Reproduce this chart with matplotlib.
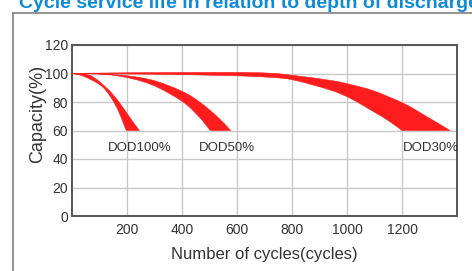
import matplotlib
matplotlib.use("Agg")
import matplotlib.pyplot as plt
from matplotlib.lines import Line2D
from matplotlib.path import Path
from matplotlib.patches import PathPatch
import numpy as np

plt.rcParams['font.family'] = ['Liberation Sans', 'DejaVu Sans']

title = "Cycle service life in relation to depth of discharge"
x_ticks = [200, 400, 600, 800, 1000, 1200]
y_ticks = [0, 20, 40, 60, 80, 100, 120]

# band edges (cycles, capacity %)
dod100_inner_x = [0, 40, 103, 140, 170, 194, 200]
dod100_inner_y = [100, 98.2, 91.9, 83.7, 73.2, 61.5, 60]
dod100_outer_x = [0, 67, 127, 170, 212, 245]
dod100_outer_y = [100, 98.5, 89.6, 80.2, 68.6, 60]

dod50_inner_x = [0, 150, 285, 400, 460, 503]
dod50_inner_y = [100, 98.8, 92.5, 80.5, 70, 60]
dod50_outer_x = [0, 150, 285, 400, 466, 530, 577]
dod50_outer_y = [100, 99.3, 95.7, 87.5, 79.7, 69.4, 60]

dod30_inner_x = [0, 300, 576, 721, 806, 939, 1012, 1097, 1150, 1200]
dod30_inner_y = [100, 99.5, 98.5, 97.3, 95.4, 88.4, 82.6, 73.2, 67, 60]
dod30_outer_x = [0, 200, 576, 721, 806, 939, 1012, 1097, 1206, 1279, 1375]
dod30_outer_y = [100, 100.5, 100.8, 100.2, 98.6, 95.2, 92.3, 87.8, 79.0, 71.0, 60]

labels = ["DOD100%", "DOD50%", "DOD30%"]
label_x = [247, 562, 1203]
label_y = [48, 48, 48]

red = '#ff1c1c'
txt = '#333333'


def smooth_path(xs, ys):
    """Bezier path through the points (Catmull-Rom tangents), for smooth edges."""
    pts = np.column_stack([xs, ys]).astype(float)
    verts = [pts[0]]
    codes = [Path.MOVETO]
    n = len(pts)
    for i in range(n - 1):
        p0 = pts[max(i - 1, 0)]
        p1 = pts[i]
        p2 = pts[i + 1]
        p3 = pts[min(i + 2, n - 1)]
        verts += [p1 + (p2 - p0) / 6, p2 - (p3 - p1) / 6, p2]
        codes += [Path.CURVE4] * 3
    return verts, codes


fig = plt.figure(figsize=(4.72, 2.71), dpi=100)
fig.set_facecolor('white')

# outer frame (only left and top edges are in view)
fig.add_artist(Line2D([13 / 472, 13 / 472], [0, 1 - 13 / 271], color='#8a8a8a', lw=1.3))
fig.add_artist(Line2D([13 / 472, 1], [1 - 13 / 271, 1 - 13 / 271], color='#8a8a8a', lw=1.3))

# title cut off by the top edge, as in the source image
fig.text(19 / 472, 1 - 8 / 271, title, color='#0e8ad6', fontsize=14, fontweight='bold',
         ha='left', va='baseline')

ax = fig.add_axes([72 / 472, 55 / 271, 385 / 472, 171 / 271])
ax.set_xlim(0, 1400)
ax.set_ylim(0, 120)

bands = [
    (dod100_inner_x, dod100_inner_y, dod100_outer_x, dod100_outer_y),
    (dod50_inner_x, dod50_inner_y, dod50_outer_x, dod50_outer_y),
    (dod30_inner_x, dod30_inner_y, dod30_outer_x, dod30_outer_y),
]
for xi, yi, xo, yo in bands:
    vo, co = smooth_path(xo, yo)
    vi, ci = smooth_path(xi[::-1], yi[::-1])
    ci[0] = Path.LINETO
    verts = vo + vi + [vo[0]]
    codes = co + ci + [Path.CLOSEPOLY]
    ax.add_patch(PathPatch(Path(verts, codes), facecolor=red, edgecolor=red, lw=0.4, zorder=3))

ax.text(label_x[0], label_y[0], labels[0], ha='center', va='center', fontsize=9.5, color=txt)
ax.text(label_x[1], label_y[1], labels[1], ha='center', va='center', fontsize=9.5, color=txt)
ax.text(label_x[2], label_y[2], labels[2], ha='left', va='center', fontsize=9.5, color=txt)

ax.set_xticks(x_ticks)
ax.set_yticks(y_ticks)
ax.tick_params(length=0, labelsize=10, labelcolor=txt)
ax.tick_params(axis='y', pad=3)
ax.tick_params(axis='x', pad=5)
ax.grid(True, color='#c8c8c8', lw=1)
ax.set_axisbelow(True)
for s in ax.spines.values():
    s.set_color('#555555')
    s.set_linewidth(1.4)

ax.set_xlabel("Number of cycles(cycles)", fontsize=12, color=txt, labelpad=7)
ax.set_ylabel("Capacity(%)", fontsize=13, color=txt)
ax.yaxis.set_label_coords(-0.068, 0.596)

fig.savefig("out.png", dpi=100)
